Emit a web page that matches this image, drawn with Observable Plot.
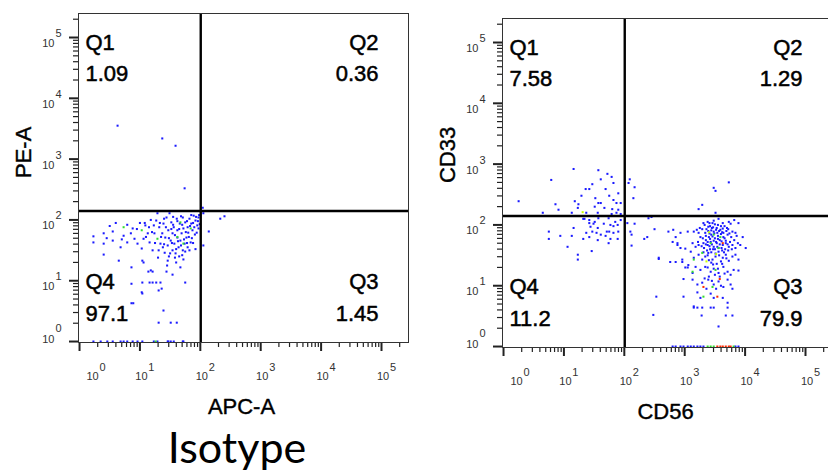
<!DOCTYPE html>
<html><head><meta charset="utf-8">
<script src="https://cdn.jsdelivr.net/npm/d3@7"></script>
<script src="https://cdn.jsdelivr.net/npm/@observablehq/plot@0.6"></script>
<style>
html,body{margin:0;padding:0;background:#fff;}
#wrap{position:relative;width:828px;height:474px;overflow:hidden;background:#fff;}
.panel{position:absolute;width:420px;}
#title{position:absolute;left:117px;width:240px;top:425px;text-align:center;font-family:Lato,"Open Sans",sans-serif;font-size:43px;line-height:43px;color:#000;}
</style></head>
<body>
<div id="wrap">
  <div id="p1" class="panel" style="left:0;top:0"></div>
  <div id="p2" class="panel" style="left:424px;top:5px"></div>
  <div id="title">Isotype</div>
</div>
<script>
// ---- axis ticks (log10 decades) ----
const decades = [0, 1, 2, 3, 4, 5];
const tickBase = ["10", "10", "10", "10", "10", "10"];
const tickSup = ["0", "1", "2", "3", "4", "5"];

// ---- gates (log10 units) ----
const gateX = 2.007;
const gateY = 2.146;

// ---- Isotype panel: APC-A vs PE-A (log10 units) ----
const isoAxes = ["APC-A", "PE-A"];
const isoQuad = ["Q1", "Q2", "Q3", "Q4"];
const isoStats = ["1.09", "0.36", "1.45", "97.1"];
const isoBlue = [
[0.23,1.73],[0.23,1.63],[0.40,1.78],[0.40,1.61],[0.40,1.43],[0.55,1.81],[0.55,1.66],[0.65,1.33],[0.73,1.74],[0.79,1.92],
[0.79,1.63],[0.88,1.86],[0.86,1.22],[0.91,1.69],[0.96,1.61],[1.03,1.53],[1.04,1.33],[1.06,1.69],[1.09,1.91],[1.13,1.78],
[1.16,1.63],[1.18,1.17],[1.21,1.50],[1.23,1.91],[1.24,1.78],[1.27,1.99],[1.29,2.11],[1.31,1.50],[1.32,1.88],[1.34,1.61],
[1.34,0.97],[1.36,0.87],[1.37,1.78],[1.39,1.94],[1.41,1.46],[1.42,1.71],[1.44,2.04],[1.46,1.58],[1.46,1.33],[1.47,1.83],
[1.49,2.11],[1.51,1.66],[1.52,1.96],[1.54,1.50],[1.54,1.78],[1.56,1.88],[1.57,1.61],[1.59,1.45],[1.61,2.02],[1.62,1.71],
[1.62,1.83],[1.64,1.55],[1.66,1.94],[1.67,1.66],[1.69,1.78],[1.71,2.04],[1.71,1.50],[1.72,1.86],[1.74,1.61],[1.75,1.96],
[1.77,1.71],[1.79,1.55],[1.79,1.88],[1.80,1.79],[1.82,2.02],[1.84,1.63],[1.85,1.94],[1.87,1.83],[1.89,2.07],[1.90,1.88],
[1.92,1.99],[1.94,1.79],[1.95,1.91],[1.97,2.04],[1.97,1.86],
[1.35,1.72],[1.38,1.55],[1.43,1.88],[1.48,1.70],[1.50,1.45],[1.53,1.62],[1.55,1.92],[1.58,1.75],[1.60,1.52],[1.63,1.65],
[1.65,1.85],[1.68,1.58],[1.70,1.92],[1.73,1.68],[1.76,1.80],[1.78,1.62],[1.81,1.72],[1.83,1.90],[1.86,1.70],[1.88,1.95],
[1.91,1.76],[1.93,2.05],[1.96,1.98],[1.99,1.93],[1.98,2.08],[1.70,1.42],[1.75,1.48],[1.82,1.50],[1.65,1.40],[1.58,1.38],
[1.48,1.40],[1.40,1.60],[1.25,1.62],[1.20,1.80],[1.15,1.88],[1.10,1.72],[1.00,1.95],[0.95,1.85],[0.85,1.78],[0.70,1.68],
[0.60,1.95],[0.50,1.90],[0.45,1.70],[0.68,1.55],[1.30,1.38],[1.45,1.25],[1.60,1.30],[1.72,1.35],[1.88,1.62],[1.92,1.52],
[1.62,1.98],[1.55,2.05],[1.40,2.02],[1.33,1.95],[1.18,2.00],[1.08,1.95],[1.78,1.98],[1.85,2.08],[1.68,2.06],[1.52,1.85],
[0.86,0.95],[1.03,0.81],[1.21,0.97],[1.31,0.84],[1.39,0.51],[1.31,0.31],[1.51,0.31],[1.61,0.31],[0.86,0.63],[1.04,0.97],
[1.16,0.97],[1.27,0.97],[1.75,0.97],[1.04,0.79],[1.54,1.10],[1.44,1.15],[1.14,1.15],[1.21,1.15],[1.67,1.22],[1.06,1.30],
[0.89,0.63],
[0.63,3.55],[1.37,3.34],[1.59,3.22],[1.74,2.52],[2.04,2.20],[2.05,2.11],[2.14,1.81],[2.05,1.58],[2.33,2.02],[2.40,2.06],
[0.23,0],[0.35,0],[0.46,0],[0.55,0],[0.68,0],[0.73,0],[0.79,0],[0.88,0],[0.96,0],[1.04,0],
[1.23,0],[1.29,0],[1.46,0],[1.47,0],[1.51,0],[1.56,0],[1.71,0],[1.72,0]
];
const isoGreen = [[0.73,1.88],[1.03,1.83],[1.29,1.69],[1.67,1.96],[1.72,1.61],[1.84,1.86],[1.62,1.72],[1.26,0]];

// ---- CD56 vs CD33 panel (log10 units) ----
const cdAxes = ["CD56", "CD33"];
const cdQuad = ["Q1", "Q2", "Q3", "Q4"];
const cdStats = ["7.58", "1.29", "79.9", "11.2"];
const cdBlue = [
[1.16,2.92],[0.79,2.74],[1.36,2.59],[1.42,2.59],[1.29,2.48],[0.25,2.39],[1.18,2.39],[0.86,2.34],[1.24,2.34],[0.91,2.25],
[1.23,2.28],[0.65,2.20],[1.13,2.20],[1.37,2.20],[1.32,2.10],[1.42,2.08],[1.42,2.03],[1.16,1.95],[0.75,1.89],[1.37,1.87],
[0.94,1.82],[1.13,1.82],[1.42,1.80],[0.75,1.77],[1.32,1.77],[1.06,1.64],[1.23,1.51],[1.23,1.43],
[1.57,2.90],[1.72,2.84],[1.79,2.79],[1.61,2.75],[1.82,2.69],[1.47,2.67],[1.69,2.59],[1.90,2.52],[1.75,2.48],[1.52,2.44],
[1.82,2.41],[1.57,2.36],[1.61,2.36],[1.87,2.36],[1.94,2.36],[1.51,2.30],[1.67,2.28],[1.80,2.26],[1.90,2.25],[1.56,2.20],
[1.79,2.18],[1.87,2.20],[1.94,2.18],[1.57,2.11],[1.74,2.11],[1.34,2.10],[1.94,2.08],[1.51,2.05],[1.85,2.05],[1.49,2.02],
[1.66,2.02],[1.77,2.00],[1.82,1.98],[1.89,2.00],[1.44,1.97],[1.56,1.95],[1.47,1.89],[1.54,1.87],[1.71,1.89],[1.75,1.89],
[1.82,1.87],[1.90,1.89],[1.61,1.84],[1.69,1.82],[1.77,1.77],[1.89,1.77],[1.56,1.75],[1.74,1.70],[1.46,1.57],
[2.09,2.75],[2.07,2.69],[2.17,2.62],[2.15,2.44],[2.05,2.03],[2.17,2.02],[2.40,2.11],[2.45,2.13],[2.10,1.89],[2.12,1.84],
[2.38,1.80],[2.33,1.77],[2.12,1.66],[2.50,1.93],[2.57,1.44],
[3.31,2.03],[3.38,2.05],[3.41,2.03],[3.46,2.03],[3.48,2.07],[3.56,2.10],[3.63,2.03],[3.73,2.05],[3.76,2.02],[3.82,2.08],[3.89,2.03],
[2.73,1.89],[2.81,1.92],[2.85,1.80],[2.93,1.87],[3.05,1.89],[3.15,1.89],[3.23,1.87],[3.29,1.93],[3.34,1.87],[3.39,1.90],
[3.44,1.84],[3.48,1.89],[3.54,1.87],[3.59,1.92],[3.64,1.87],[3.71,1.84],[3.79,1.89],[3.84,1.87],[3.96,1.80],
[2.80,1.72],[2.88,1.70],[2.93,1.62],[3.01,1.61],[3.13,1.70],[3.18,1.64],[3.23,1.67],[3.31,1.70],[3.38,1.67],[3.43,1.72],
[3.48,1.64],[3.53,1.70],[3.56,1.62],[3.63,1.67],[3.68,1.70],[3.73,1.64],[3.79,1.67],[3.84,1.62],[3.92,1.67],[4.01,1.62],
[2.76,1.39],[2.85,1.39],[2.96,1.39],[3.10,1.56],[3.15,1.46],[3.23,1.51],[3.29,1.43],[3.34,1.48],[3.39,1.54],[3.46,1.43],
[3.51,1.48],[3.56,1.56],[3.63,1.46],[3.68,1.51],[3.73,1.41],[3.79,1.48],[3.84,1.51],[3.89,1.43],
[3.01,1.30],[3.06,1.34],[3.18,1.31],[3.26,1.26],[3.34,1.31],[3.43,1.23],[3.48,1.28],[3.56,1.21],[3.64,1.31],[3.71,1.23],
[3.76,1.18],[3.81,1.26],[3.89,1.25],
[2.98,1.11],[3.13,1.10],[3.21,1.02],[3.29,1.05],[3.39,1.10],[3.48,1.02],[3.56,1.07],[3.64,0.98],[3.71,1.10],[3.76,1.02],[3.79,0.95],
[2.98,0.82],[3.43,0.87],[3.48,0.80],[3.63,0.80],[3.71,0.72],[3.15,0.64],[3.21,0.64],[3.43,0.64],[3.48,0.64],[3.71,0.64],
[3.28,0.51],[3.68,0.51],[3.79,0.51],[3.56,0.33],
[3.51,2.56],[3.29,2.33],[3.23,2.26],[3.51,2.20],[3.48,2.61],[3.73,2.70],
[2.88,1.67],[2.57,1.46],[2.48,0.52],[2.53,0.82],[2.96,1.43],[3.05,1.30],[3.13,1.21],[3.21,0.89],[3.15,0.66],[3.29,0.64],[3.26,0.80],
[3.35,1.75],[3.40,1.80],[3.45,1.95],[3.50,1.78],[3.52,1.92],[3.55,1.82],[3.58,1.75],[3.60,1.98],[3.62,1.58],[3.42,1.60],
[3.37,1.58],[3.30,1.78],[3.25,1.95],[3.45,1.68],[3.50,1.60],[3.66,1.78],[3.70,1.95],[3.60,1.40],[3.53,1.36],[3.44,1.38],
[3.40,1.15],[3.58,1.15],[3.52,0.95],[3.36,0.95],[3.62,1.88],[3.48,1.74],[3.55,2.00],[3.42,1.98],[3.32,1.62],[3.67,1.60],
[3.33,2.00],[3.36,1.93],[3.39,1.97],[3.41,1.86],[3.44,1.91],[3.47,1.96],[3.50,2.01],[3.53,1.95],[3.57,1.90],[3.60,1.85],
[3.63,1.94],[3.66,1.98],[3.69,1.90],[3.72,1.93],[3.74,1.86],[3.77,1.80],[3.35,1.82],[3.38,1.72],[3.42,1.77],[3.46,1.81],
[3.49,1.86],[3.52,1.72],[3.55,1.77],[3.58,1.68],[3.61,1.73],[3.64,1.80],[3.68,1.74],[3.71,1.68],[3.75,1.72],[3.78,1.60],
[3.28,1.65],[3.31,1.55],[3.35,1.68],[3.38,1.50],[3.41,1.65],[3.44,1.55],[3.47,1.60],[3.51,1.53],[3.54,1.64],[3.57,1.50],
[3.61,1.62],[3.65,1.55],[3.69,1.45],[3.72,1.58],[3.26,1.80],[3.22,1.72],[3.20,1.92],[3.82,1.75],[3.86,1.82],[3.88,1.70],
[3.40,1.42],[3.47,1.35],[3.55,1.28],[3.62,1.36],[3.50,1.18],[3.45,1.08],[3.60,1.00],[3.38,1.30],[3.66,1.20],[3.33,1.12],
[2.80,0],[2.85,0],[2.93,0],[2.98,0],[3.05,0],[3.10,0],[3.15,0],[3.21,0],[3.26,0],[3.31,0],[3.84,0],[3.89,0]
];
const cdGreen = [[3.48,1.84],[3.43,1.70],[3.29,1.54],[3.15,1.43],[3.51,1.26],[3.13,1.23],[3.46,0.98],[3.31,0.82],[3.59,1.80],[3.56,1.62],
[3.38,0],[3.43,0],[3.48,0],[3.81,0]];
const cdYellow = [[1.31,2.21],[3.40,1.88],[3.52,1.52],[3.36,1.40]];
const cdRed = [[3.31,0.98],[3.54,0.82],[3.63,1.70],[3.58,1.11],
[3.54,0],[3.59,0],[3.63,0],[3.68,0],[3.73,0],[3.76,0]];

// ---- drawing ----
const W = 420, H = 420, ML = 78, MR = 12, MT = 13, MB = 78;
const xDomain = [-0.017, 5.447];
const yDomain = [-0.016, 5.395];
const xPx = (W - ML - MR) / (xDomain[1] - xDomain[0]);  // pixels per decade
const yPx = (H - MT - MB) / (yDomain[1] - yDomain[0]);
const minorOf = (dom) => decades.flatMap(d => [2,3,4,5,6,7,8,9].map(k => d + Math.log10(k)))
  .filter(v => v > dom[0] && v < dom[1]);
const font = '"Liberation Sans", Arial, sans-serif';

function xTicks(vals, len, sw) {
  return Plot.ruleX(vals, {x: d => d, y1: yDomain[0], y2: yDomain[0] + len / yPx, dy: len, stroke: "#222", strokeWidth: sw});
}
function yTicks(vals, len, sw) {
  return Plot.ruleY(vals, {y: d => d, x1: xDomain[0], x2: xDomain[0] + len / xPx, dx: -len, stroke: "#222", strokeWidth: sw});
}

function panel(p) {
  const dotOpts = (fill) => ({x: d => d[0], y: d => d[1], symbol: "square", r: 1.15, fill, stroke: null});
  const qText = (txt, anchor, dx, dy, ta) => Plot.text([txt], {text: d => d, frameAnchor: anchor, dx, dy,
    lineAnchor: "bottom", textAnchor: ta, fontSize: 22, fill: "#000", stroke: "#000", strokeWidth: 0.5});
  const tickLab = {fontSize: 11, fill: "#333", lineAnchor: "bottom"};
  const idx = decades.map((d, i) => i);
  return Plot.plot({
    width: W, height: H,
    marginLeft: ML, marginRight: MR, marginTop: MT, marginBottom: MB,
    x: {type: "linear", domain: xDomain, axis: null},
    y: {type: "linear", domain: yDomain, axis: null},
    style: {fontFamily: font, background: "transparent", overflow: "visible", maxWidth: "none"},
    marks: [
      xTicks(decades, 9, 2),
      xTicks(minorOf(xDomain), 5, 1.2),
      yTicks(decades, 9, 2),
      yTicks(minorOf(yDomain), 5, 1.2),
      Plot.dot(p.blue, dotOpts("#1a1aff")),
      Plot.dot(p.green, dotOpts("#33dd33")),
      Plot.dot(p.yellow, dotOpts("#c8ff00")),
      Plot.dot(p.red, dotOpts("#ff2a00")),
      Plot.ruleX([gateX], {stroke: "#000", strokeWidth: 2.4}),
      Plot.ruleY([gateY], {stroke: "#000", strokeWidth: 2.4}),
      Plot.frame({stroke: "#333", strokeWidth: 1}),
      // x tick labels 10^n
      Plot.text(idx.slice(1), {x: i => decades[i], text: i => tickBase[i], frameAnchor: "bottom", dy: 37, dx: 1.5, textAnchor: "middle", ...tickLab}),
      Plot.text(idx.slice(1), {x: i => decades[i], text: i => tickSup[i], frameAnchor: "bottom", dy: 28, dx: 11.5, textAnchor: "middle", ...tickLab}),
      Plot.text([0], {x: i => decades[i], text: i => tickBase[i], frameAnchor: "bottom", dy: 37, dx: 13, textAnchor: "middle", ...tickLab}),
      Plot.text([0], {x: i => decades[i], text: i => tickSup[i], frameAnchor: "bottom", dy: 28, dx: 23, textAnchor: "middle", ...tickLab}),
      // y tick labels 10^n
      Plot.text(idx.slice(1), {y: i => decades[i], text: i => tickBase[i], frameAnchor: "left", dx: -24, dy: 9.5, textAnchor: "end", ...tickLab}),
      Plot.text(idx.slice(1), {y: i => decades[i], text: i => tickSup[i], frameAnchor: "left", dx: -23, dy: -0.5, textAnchor: "start", ...tickLab}),
      Plot.text([0], {y: i => decades[i], text: i => tickBase[i], frameAnchor: "left", dx: -24, dy: 1, textAnchor: "end", ...tickLab}),
      Plot.text([0], {y: i => decades[i], text: i => tickSup[i], frameAnchor: "left", dx: -23, dy: -10, textAnchor: "start", ...tickLab}),
      // axis titles
      Plot.text([p.axes[0]], {text: d => d, frameAnchor: "bottom", dy: 71, dx: -2, lineAnchor: "bottom", fontSize: 22, fill: "#000", stroke: "#000", strokeWidth: 0.4}),
      Plot.text([p.axes[1]], {text: d => d, frameAnchor: "left", dx: -54.5, rotate: -90, lineAnchor: "middle", fontSize: 22, fill: "#000", stroke: "#000", strokeWidth: 0.4}),
      // quadrant names and percentages
      qText(p.quad[0], "top-left", 7, 36, "start"),
      qText(p.stats[0], "top-left", 7, 67, "start"),
      qText(p.quad[1], "top-right", -30, 36, "end"),
      qText(p.stats[1], "top-right", -30, 67, "end"),
      qText(p.quad[2], "bottom-right", -30, -54, "end"),
      qText(p.stats[2], "bottom-right", -30, -22, "end"),
      qText(p.quad[3], "bottom-left", 7, -54, "start"),
      qText(p.stats[3], "bottom-left", 7, -22, "start")
    ]
  });
}

document.getElementById("p1").appendChild(panel({blue: isoBlue, green: isoGreen, yellow: [], red: [], axes: isoAxes, quad: isoQuad, stats: isoStats}));
document.getElementById("p2").appendChild(panel({blue: cdBlue, green: cdGreen, yellow: cdYellow, red: cdRed, axes: cdAxes, quad: cdQuad, stats: cdStats}));
</script>
</body></html>
